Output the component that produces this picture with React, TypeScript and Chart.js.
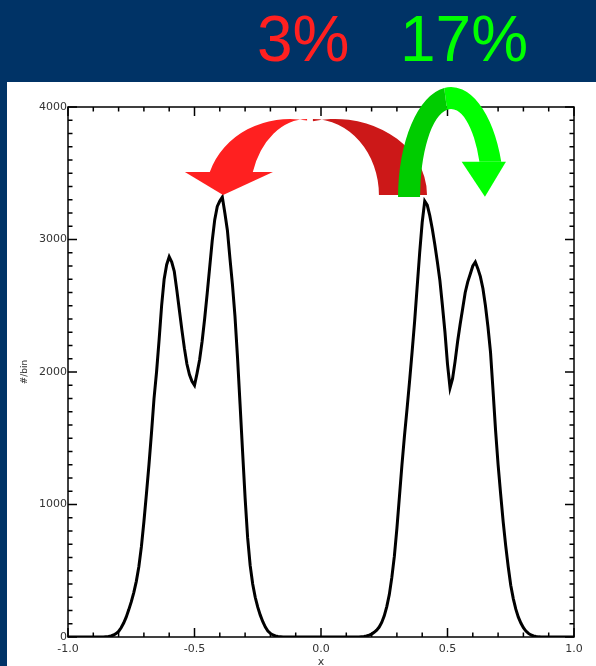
import React, { useEffect, useRef } from "react";
import { Chart, registerables } from "chart.js";
Chart.register(...registerables);

// Histogram of x (counts per bin)
const binStep = 0.01;
const leftStart = -0.86;
const leftCounts = [
  0, 2, 4, 8, 15, 26, 42, 70, 105, 150, 205, 265, 335, 420, 530, 680, 870, 1080, 1300, 1540,
  1800, 2000, 2240, 2500, 2700, 2810, 2870, 2830, 2760, 2620, 2470, 2320, 2180, 2060, 1980, 1930,
  1900, 1990, 2090, 2230, 2400, 2590, 2790, 2990, 3150, 3250, 3290, 3320, 3200, 3070, 2860, 2660,
  2420, 2110, 1760, 1400, 1050, 750, 540, 400, 300, 225, 165, 115, 75, 45, 27, 15, 8, 4, 2, 0,
];
const rightStart = 0.15;
const rightCounts = [
  0, 2, 4, 8, 14, 22, 35, 52, 75, 110, 160, 230, 320, 450, 610, 820, 1060, 1300, 1520, 1720,
  1930, 2150, 2380, 2640, 2900, 3130, 3290, 3260, 3180, 3080, 2960, 2830, 2690, 2500, 2300, 2060,
  1880, 1950, 2080, 2230, 2360, 2480, 2600, 2680, 2740, 2800, 2830, 2780, 2720, 2630, 2500, 2340,
  2150, 1860, 1560, 1300, 1080, 870, 690, 530, 390, 290, 210, 150, 105, 70, 45, 27, 15, 8, 4, 1, 0,
];
const xTickValues = [-1, -0.5, 0, 0.5, 1];
const xTickLabels = ["-1.0", "-0.5", "0.0", "0.5", "1.0"];
const yTickValues = [0, 1000, 2000, 3000, 4000];
const yTickLabels = ["0", "1000", "2000", "3000", "4000"];
const shiftLabels = ["3%", "17%"];

// Arrow annotations in data units (x, #/bin)
const redArrow = {
  cy: 3336, ry: 574, headBase: 3509, headLeft: -0.538, headRight: -0.19, tipX: -0.387, tipY: 3336,
  leftOuterCx: -0.123, leftOuterRx: 0.332, leftInnerCx: -0.055, leftInnerRx: 0.225,
  rightOuterCx: 0.055, rightOuterRx: 0.364, rightInnerCx: -0.032, rightInnerRx: 0.261,
};
const greenArrow = {
  cx: 0.514, cy: 3321, orx: 0.2095, ory: 830, irx: 0.1225, iry: 664,
  headBase: 3587, headLeft: 0.556, headRight: 0.731, tipX: 0.648, tipY: 3323,
};

function buildPoints() {
  const pts: { x: number; y: number }[] = [{ x: -1, y: 0 }];
  leftCounts.forEach((c, i) => pts.push({ x: +(leftStart + i * binStep).toFixed(2), y: c }));
  rightCounts.forEach((c, i) => pts.push({ x: +(rightStart + i * binStep).toFixed(2), y: c }));
  pts.push({ x: 1, y: 0 });
  return pts;
}

const framePlugin = {
  id: "frameAndArrows",
  afterDraw(chart: any) {
    const { ctx, chartArea, scales } = chart;
    const xs = scales.x, ys = scales.y;
    const X = (v: number) => xs.getPixelForValue(v);
    const Y = (v: number) => ys.getPixelForValue(v);
    const { left, right, top, bottom } = chartArea;
    ctx.save();
    ctx.strokeStyle = "#000";
    ctx.lineWidth = 1.5;
    ctx.strokeRect(left, top, right - left, bottom - top);
    ctx.beginPath();
    for (let i = 0; i <= 20; i++) {
      const v = -1 + i * 0.1;
      const len = i % 5 === 0 ? 9 : 4.5;
      const px = X(v);
      ctx.moveTo(px, bottom); ctx.lineTo(px, bottom - len);
      ctx.moveTo(px, top); ctx.lineTo(px, top + len);
    }
    for (let i = 0; i <= 40; i++) {
      const v = i * 100;
      const len = i % 10 === 0 ? 9 : 4.5;
      const py = Y(v);
      ctx.moveTo(left, py); ctx.lineTo(left + len, py);
      ctx.moveTo(right, py); ctx.lineTo(right - len, py);
    }
    ctx.stroke();

    // Red arrow
    const r = redArrow;
    const cy = Y(r.cy);
    const ry = Y(r.cy - r.ry) - cy;
    const baseY = Y(r.headBase);
    const thEnd = -Math.PI + Math.asin((cy - baseY) / ry);
    let ocx = X(r.leftOuterCx), orx = X(r.leftOuterCx + r.leftOuterRx) - ocx;
    let icx = X(r.leftInnerCx), irx = X(r.leftInnerCx + r.leftInnerRx) - icx;
    let ths = -Math.acos((icx - ocx) / orx);
    ctx.fillStyle = "#ff2020";
    ctx.beginPath();
    ctx.ellipse(ocx, cy, orx, ry, 0, ths, thEnd, true);
    ctx.ellipse(icx, cy, irx, ry, 0, thEnd, -Math.PI / 2, false);
    ctx.closePath();
    ctx.fill();
    ctx.beginPath();
    ctx.moveTo(X(r.headLeft), baseY);
    ctx.lineTo(X(r.headRight), baseY);
    ctx.lineTo(X(r.tipX), Y(r.tipY));
    ctx.closePath();
    ctx.fill();
    ocx = X(r.rightOuterCx); orx = X(r.rightOuterCx + r.rightOuterRx) - ocx;
    icx = X(r.rightInnerCx); irx = X(r.rightInnerCx + r.rightInnerRx) - icx;
    ths = -Math.acos((icx - ocx) / orx);
    ctx.fillStyle = "#cc1818";
    ctx.beginPath();
    ctx.ellipse(ocx, cy, orx, ry, 0, ths, 0, false);
    ctx.ellipse(icx, cy, irx, ry, 0, 0, -Math.PI / 2, true);
    ctx.closePath();
    ctx.fill();

    // Green arrow
    const g = greenArrow;
    const gcx = X(g.cx), gcy = Y(g.cy);
    const gorx = X(g.cx + g.orx) - gcx, gory = Y(g.cy - g.ory) - gcy;
    const girx = X(g.cx + g.irx) - gcx, giry = Y(g.cy - g.iry) - gcy;
    const gBase = Y(g.headBase);
    const split = -1.7;
    const oEnd = -Math.asin((gcy - gBase) / gory);
    const iEnd = -Math.asin((gcy - gBase) / giry);
    ctx.fillStyle = "#00ff00";
    ctx.beginPath();
    ctx.ellipse(gcx, gcy, gorx, gory, 0, split, oEnd, false);
    ctx.ellipse(gcx, gcy, girx, giry, 0, iEnd, split, true);
    ctx.closePath();
    ctx.fill();
    ctx.beginPath();
    ctx.moveTo(X(g.headLeft), gBase);
    ctx.lineTo(X(g.headRight), gBase);
    ctx.lineTo(X(g.tipX), Y(g.tipY));
    ctx.closePath();
    ctx.fill();
    ctx.fillStyle = "#00cc00";
    ctx.beginPath();
    ctx.ellipse(gcx, gcy, gorx, gory, 0, -Math.PI, split, false);
    ctx.ellipse(gcx, gcy, girx, giry, 0, split, -Math.PI, true);
    ctx.closePath();
    ctx.fill();
    ctx.restore();
  },
};

export default function App() {
  const ref = useRef<HTMLCanvasElement>(null);
  useEffect(() => {
    if (!ref.current) return;
    const chart = new Chart(ref.current, {
      type: "line",
      data: {
        datasets: [
          {
            data: buildPoints(),
            borderColor: "#000",
            borderWidth: 3,
            pointRadius: 0,
            fill: false,
            tension: 0,
          },
        ],
      },
      options: {
        animation: false,
        responsive: false,
        devicePixelRatio: 1,
        layout: { padding: { top: 25, right: 22, left: 0, bottom: 0 } },
        plugins: { legend: { display: false }, tooltip: { enabled: false } },
        scales: {
          x: {
            type: "linear",
            min: -1,
            max: 1,
            afterFit: (s: any) => { s.height = 35; },
            afterBuildTicks: (s: any) => { s.ticks = xTickValues.map((v) => ({ value: v })); },
            grid: { display: false, drawTicks: false },
            border: { display: false },
            ticks: {
              autoSkip: false,
              maxRotation: 0,
              padding: 6,
              color: "#333",
              font: { family: "'DejaVu Sans'", size: 11 },
              callback: (v: any) => { const i = xTickValues.indexOf(Number(v)); return i >= 0 ? xTickLabels[i] : ""; },
            },
            title: { display: true, text: "x", color: "#333", font: { family: "'DejaVu Sans'", size: 11 }, padding: { top: 0, bottom: 3 } },
          },
          y: {
            min: 0,
            max: 4000,
            afterFit: (s: any) => { s.width = 61; },
            afterBuildTicks: (s: any) => { s.ticks = yTickValues.map((v) => ({ value: v })); },
            grid: { display: false, drawTicks: false },
            border: { display: false },
            ticks: {
              padding: 1,
              color: "#333",
              font: { family: "'DejaVu Sans'", size: 11 },
              callback: (v: any) => { const i = yTickValues.indexOf(Number(v)); return i >= 0 ? yTickLabels[i] : ""; },
            },
            title: { display: true, text: "#/bin", color: "#333", font: { family: "'DejaVu Sans'", size: 9 }, padding: { top: 12, bottom: 0 } },
          },
        },
      },
      plugins: [framePlugin],
    } as any);
    return () => chart.destroy();
  }, []);

  const textBase: React.CSSProperties = {
    position: "absolute",
    top: 7,
    fontSize: 64,
    lineHeight: "64px",
    fontFamily: "'Liberation Sans', Arial, sans-serif",
    whiteSpace: "nowrap",
  };
  return (
    <div style={{ position: "fixed", left: 0, top: 0, width: 596, height: 666, background: "#003366", overflow: "hidden" }}>
      <div style={{ ...textBase, left: 257, color: "#ff2020" }}>{shiftLabels[0]}</div>
      <div style={{ ...textBase, left: 400, color: "#00ff00" }}>{shiftLabels[1]}</div>
      <div style={{ position: "absolute", left: 7, top: 82, width: 589, height: 590, background: "#fff" }}>
        <canvas ref={ref} width={589} height={590} style={{ display: "block", width: 589, height: 590 }} />
      </div>
    </div>
  );
}
